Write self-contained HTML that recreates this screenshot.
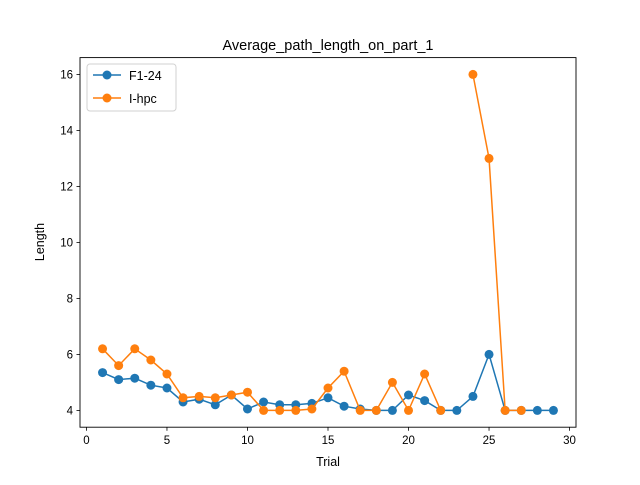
<!DOCTYPE html>
<html><head><meta charset="utf-8"><style>
body{margin:0;background:#fff;}
svg{font-family:"Liberation Sans","DejaVu Sans",sans-serif;}
</style></head><body>
<svg id="chart" width="640" height="480">
<rect x="0" y="0" width="640" height="480" fill="#fff"/>
<text x="328" y="50" text-anchor="middle" font-size="14.5">Average_path_length_on_part_1</text>
<g id="plot"></g>
<rect x="80" y="57.6" width="496" height="369.6" fill="none" stroke="#000" stroke-width="0.9"/>
<text x="328" y="466" text-anchor="middle" font-size="12.5">Trial</text>
<text x="44" y="242" text-anchor="middle" font-size="12.5" transform="rotate(-90 44 242)">Length</text>
<g>
<rect x="87" y="64" width="89" height="47" rx="3" fill="#fff" stroke="#ccc" stroke-opacity="0.9"/>
<g>
<line x1="93" y1="75" x2="121" y2="75" stroke="#1f77b4" stroke-width="1.5"/>
<circle cx="107" cy="75" r="4.5" fill="#1f77b4"/>
<text x="129" y="80" font-size="12.5">F1-24</text></g>
<g>
<line x1="93" y1="98" x2="121" y2="98" stroke="#ff7f0e" stroke-width="1.5"/>
<circle cx="107" cy="98" r="4.5" fill="#ff7f0e"/>
<text x="129" y="103" font-size="12.5">I-hpc</text></g>
</g>
</svg>
<script>
const trials = [1,2,3,4,5,6,7,8,9,10,11,12,13,14,15,16,17,18,19,20,21,22,23,24,25,26,27,28,29];
const f124 = [5.35,5.1,5.15,4.9,4.8,4.3,4.4,4.2,4.55,4.05,4.3,4.2,4.2,4.25,4.45,4.15,4.05,4.0,4.0,4.55,4.35,4.0,4.0,4.5,6.0,4.0,4.0,4.0,4.0];
const ihpc = [6.2,5.6,6.2,5.8,5.3,4.45,4.5,4.45,4.55,4.65,4.0,4.0,4.0,4.05,4.8,5.4,4.0,4.0,5.0,4.0,5.3,4.0,null,16,13,4.0,4.0,null,null];
const xTicks = [0,5,10,15,20,25,30];
const yTicks = [4,6,8,10,12,14,16];

const X0=80,X1=576,Y0=427.2,Y1=57.6,xmin=-0.4,xmax=30.4,ymin=3.4,ymax=16.6;
function xs(v){return X0+(v-xmin)/(xmax-xmin)*(X1-X0);}
function ys(v){return Y0-(v-ymin)/(ymax-ymin)*(Y0-Y1);}
const NS="http://www.w3.org/2000/svg";
const plot=document.getElementById('plot');
function mk(t,a){const e=document.createElementNS(NS,t);for(const k in a)e.setAttribute(k,a[k]);plot.appendChild(e);return e;}

xTicks.forEach(t=>{
  const l=mk('line',{x1:xs(t),x2:xs(t),y1:Y0,y2:Y0+3.5,stroke:'#000','stroke-width':0.8});
  
  
  const tx=mk('text',{x:xs(t),y:Y0+17,'text-anchor':'middle','font-size':'11.5'});
  tx.textContent=t;
  
  
});
yTicks.forEach(t=>{
  const l=mk('line',{x1:X0-3.5,x2:X0,y1:ys(t),y2:ys(t),stroke:'#000','stroke-width':0.8});
  
  
  const tx=mk('text',{x:X0-7,y:ys(t)+4,'text-anchor':'end','font-size':'11.5'});
  tx.textContent=t;
  
  
});

function series(vals,color,name){
  let d='',pen=false;
  vals.forEach((v,i)=>{
    if(v===null){pen=false;return;}
    d+=(pen?'L':'M')+xs(trials[i])+' '+ys(v)+' ';pen=true;
  });
  const p=mk('path',{d:d,fill:'none',stroke:color,'stroke-width':1.5});
  
  
  vals.forEach((v,i)=>{
    if(v===null)return;
    const c=mk('circle',{cx:xs(trials[i]),cy:ys(v),r:4.5,fill:color});
    
    
  });
}
series(f124,'#1f77b4','f1-24');
series(ihpc,'#ff7f0e','i-hpc');
</script>
</body></html>
